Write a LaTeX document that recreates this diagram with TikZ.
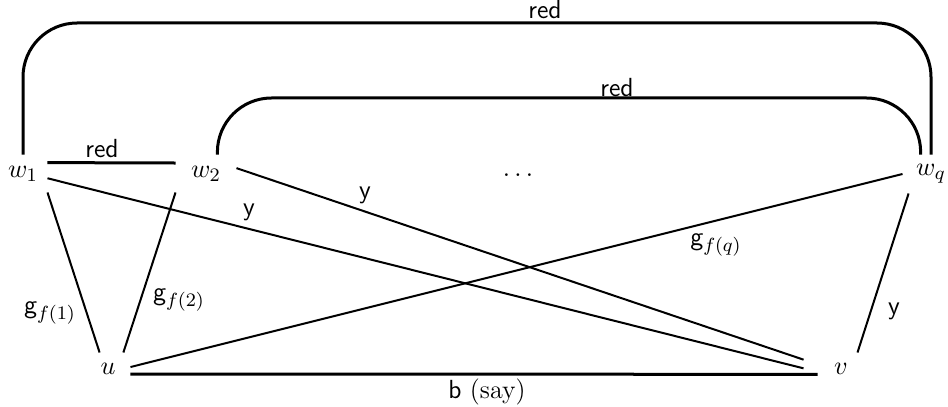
\documentclass[tikz,border=0pt]{standalone}
\begin{document}
\begin{tikzpicture}[x=0.42pt,y=-0.42pt,
        every node/.style={font=\fontsize{11}{13.6}\selectfont},
        thinline/.style={line width=0.84pt},
        redline/.style={line width=1.26pt},
        vtx/.style={inner sep=0pt}]
    \useasboundingbox (0,0) rectangle (948,407);

    % vertices
    \node[vtx,minimum width=20.16pt,minimum height=15.54pt] (w1) at (23,173.5) {$w_1$};
    \node[vtx,minimum width=25.2pt,minimum height=15.54pt] (w2) at (206,173.5) {$w_2$};
    \node[vtx,minimum width=23.52pt,minimum height=15.96pt] (wq) at (931,174) {$w_q$};
    \node[vtx] (dots) at (518,175) {$\ldots$};
    \node[vtx,minimum width=18.48pt,minimum height=13.44pt] (u) at (108,369) {$u$};
    \node[vtx,minimum width=31.08pt,minimum height=13.44pt] (v) at (841,369) {$v$};

    % red edges
    \draw[redline,rounded corners=22.7pt] (w1.north) |- (500,23) -| (wq.north);
    \draw[redline,rounded corners=22.7pt] (w2.59) |- (500,98) -| (wq.118);
    \draw[redline] (w1.24) -- (w2.161);
    \draw[redline,shorten >=-5.9pt] (u.-13) -- (v.188);

    % other edges
    \draw[thinline] (w1.south east) -- (u.117);
    \draw[thinline] (w2.south west) -- (u.47);
    \draw[thinline] (w1.-11) -- (v.179);
    \draw[thinline] (w2.10) -- (v.166);
    \draw[thinline] (u.5) -- (wq.west);
    \draw[thinline] (v.45) -- (wq.221);

    % labels
    \node at (545,10) {\textsf{red}};
    \node at (617,88) {\textsf{red}};
    \node at (102,149) {\textsf{red}};
    \node at (487,392) {\textsf{b} (say)};
    \node at (50,313) {$\mathsf{g}_{f(1)}$};
    \node at (179,300) {$\mathsf{g}_{f(2)}$};
    \node at (249,212) {\textsf{y}};
    \node at (365,195) {\textsf{y}};
    \node at (716,245) {$\mathsf{g}_{f(q)}$};
    \node at (894,311) {\textsf{y}};
\end{tikzpicture}
\end{document}
